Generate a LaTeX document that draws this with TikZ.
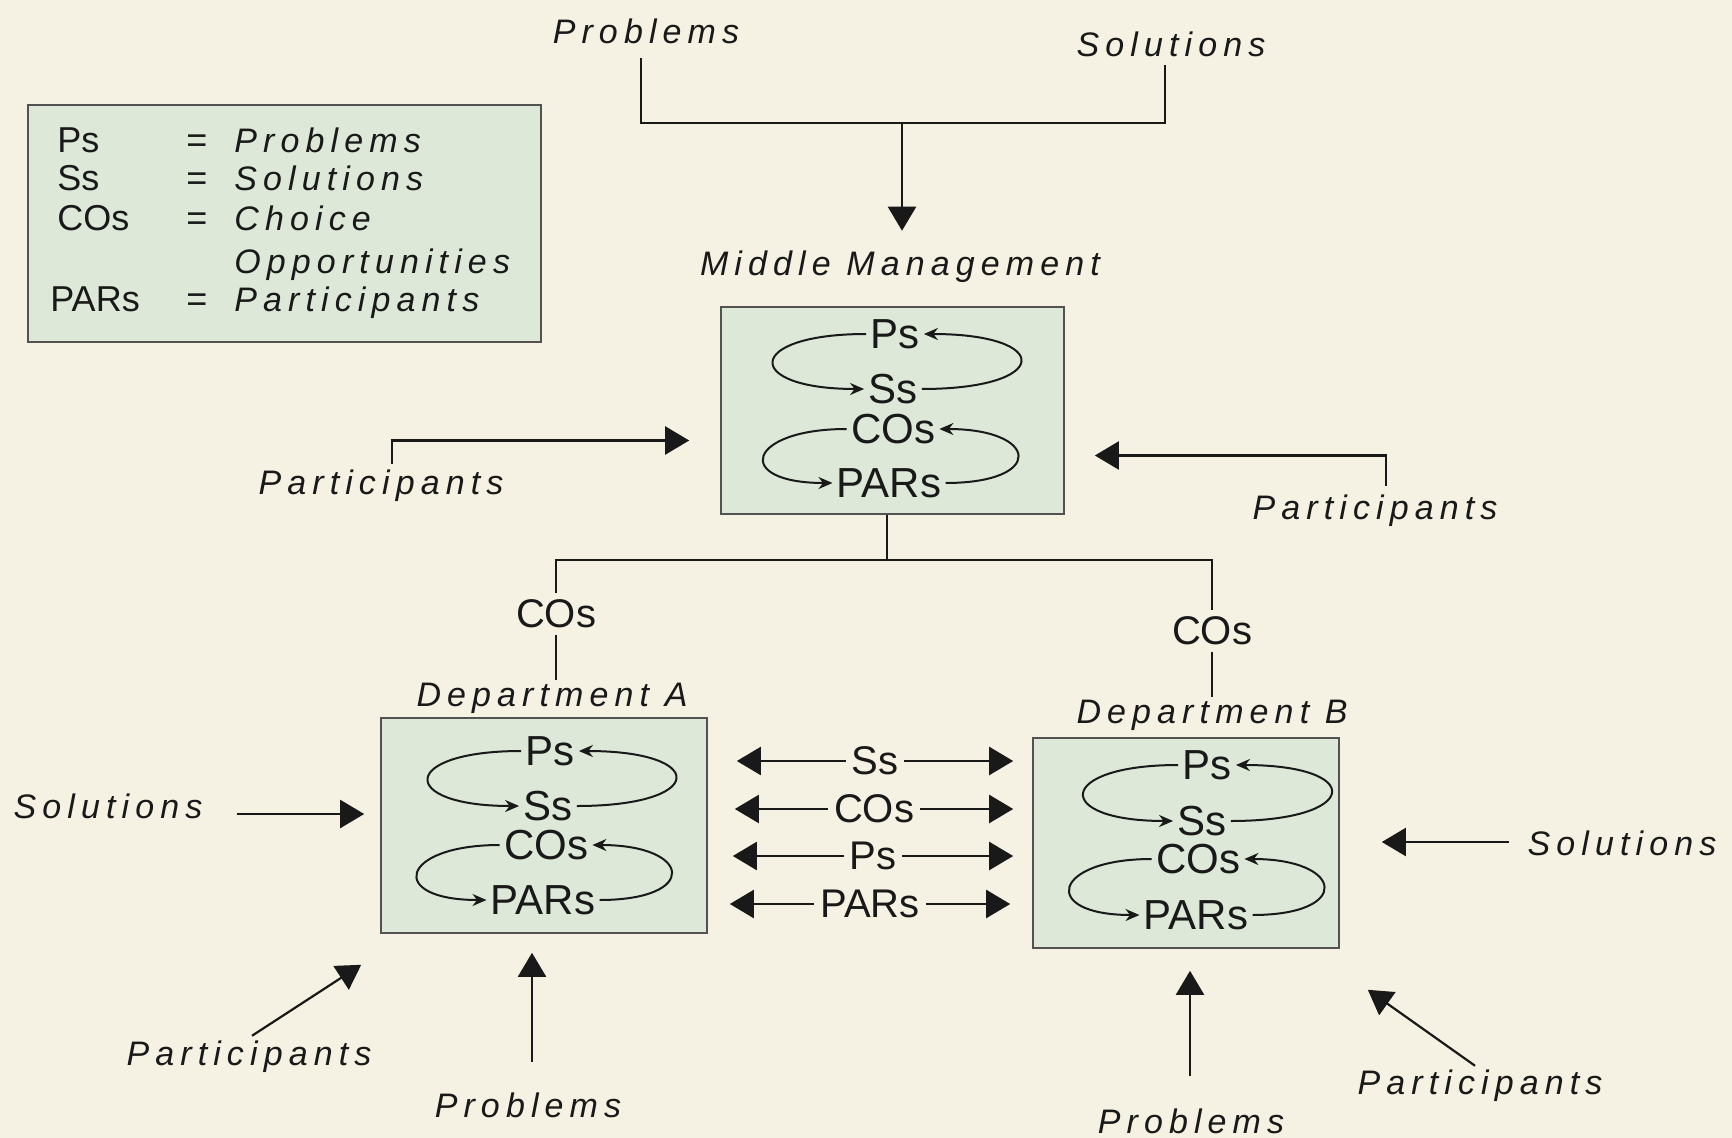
\documentclass[tikz,border=0pt]{standalone}
\usepackage{fontspec}
\setmainfont{Liberation Sans}
\newfontfamily\labfont[LetterSpace=18]{Liberation Sans}
\usetikzlibrary{arrows.meta,calc}
\definecolor{bg}{RGB}{245,242,227}
\definecolor{boxfill}{RGB}{221,232,217}
\definecolor{ink}{RGB}{25,25,25}
\newcommand\gcloops[5]{%
  \node[inlab] (#1P) at (#2) {Ps};
  \node[inlab] (#1S) at (#3) {Ss};
  \node[inlab] (#1C) at (#4) {COs};
  \node[inlab] (#1R) at (#5) {PARs};
  \draw[loopar] (#1P.west) .. controls +(-122,0) and +(-122,0) .. (#1S.west);
  \draw[loopar] (#1S.east) .. controls +(130,0) and +(130,0) .. (#1P.east);
  \draw[loopar] (#1C.west) .. controls +(-100,0) and +(-100,0) .. (#1R.west);
  \draw[loopar] (#1R.east) .. controls +(100,0) and +(100,0) .. (#1C.east);
}
\begin{document}
\begin{tikzpicture}[x=0.5pt,y=-0.5pt,
  lab/.style={font=\labfont\itshape\fontsize{17}{20}\selectfont, text=ink, inner sep=1pt},
  inlab/.style={font=\fontsize{21}{24}\selectfont, text=ink, inner sep=2pt},
  midlab/.style={font=\fontsize{20}{24}\selectfont, text=ink, inner sep=3pt, fill=bg},
  colab/.style={font=\fontsize{20}{24}\selectfont, text=ink, inner sep=3pt},
  legup/.style={font=\fontsize{18}{20}\selectfont, text=ink, anchor=base west, inner sep=0pt},
  legit/.style={font=\labfont\itshape\fontsize{17}{20}\selectfont, text=ink, anchor=base west, inner sep=0pt},
  gbox/.style={draw=ink!75, fill=boxfill, line width=0.8pt, inner sep=0pt},
  conn/.style={draw=ink, line width=1.1pt},
  big/.style={-{Triangle[length=12pt,width=14pt]}},
  dbl/.style={{Triangle[length=12pt,width=14pt]}-{Triangle[length=12pt,width=14pt]}},
  loopar/.style={draw=ink, line width=1pt, -{Stealth[length=7pt,width=6pt]}},
]
\fill[bg] (0,0) rectangle (1732,1138);
\useasboundingbox (0,0) rectangle (1732,1138);

% legend
\node[gbox, minimum width=256.5pt, minimum height=118.5pt] (leg) at (284.5,223.5) {};
\node[legup] (l1a) at (57,153) {Ps};
\node[legup] (l2a) at (57,191) {Ss};
\node[legup] (l3a) at (57,231) {COs};
\node[legup] (l5a) at (50,312) {PARs};
\node[legup,anchor=base] (l1b) at (197,153) {=};
\node[legup,anchor=base] (l2b) at (197,191) {=};
\node[legup,anchor=base] (l3b) at (197,231) {=};
\node[legup,anchor=base] (l5b) at (197,312) {=};
\node[legit] (l1c) at (234,153) {Problems};
\node[legit] (l2c) at (234,191) {Solutions};
\node[legit] (l3c) at (234,231) {Choice};
\node[legit] (l4c) at (234,274) {Opportunities};
\node[legit] (l5c) at (234,312) {Participants};

% boxes
\node[gbox, minimum width=171.5pt, minimum height=103.5pt] (mm) at (892.5,410.5) {};
\node[gbox, minimum width=163pt, minimum height=107.5pt] (dA) at (544,825.5) {};
\node[gbox, minimum width=153pt, minimum height=105pt] (dB) at (1186,843) {};

\gcloops{m}{895,334}{893,389}{893,429}{889,483}
\gcloops{a}{550,751}{548,806}{546,845}{543,900}
\gcloops{b}{1207,765}{1202,821}{1198,859}{1196,915}

% titles
\node[lab] (mml) at (900,267) {Middle Management};
\node[lab] (dAl) at (552,698) {Department A};
\node[lab] (dBl) at (1212,715) {Department B};

% top inputs
\node[lab] (tp) at (646,31) {Problems};
\node[lab] (ts) at (1171,44) {Solutions};
\coordinate (j) at (902,123);
\draw[conn] ($(tp.south)+(-5,12)$) |- (j) -| ($(ts.south)+(-6,6)$);
\draw[conn,big] (j) -- ($(mml.north)+(2,-18)$);

% participants to middle management
\node[lab] (pl) at (381,486) {Participants};
\node[lab] (pr) at (1375,511) {Participants};
\draw[conn,big] ($(pl.north)+(11,-4)$) |- ($(mm.west)+(-31,30)$);
\draw[conn,big] ($(pr.north)+(11,-7)$) |- ($(mm.east)+(30,45)$);

% tree below middle management
\coordinate (bt) at (887,560);
\node[colab] (coA) at (556,614) {COs};
\node[colab] (coB) at (1212,631) {COs};
\draw[conn] (mm.south -| bt) -- (bt);
\draw[conn] (coA.north) |- (bt) -| (coB.north);
\draw[conn] (coA.south) -- (coA.south |- dAl.north);
\draw[conn] (coB.south) -- (coB.south |- dBl.north);

% exchanges between departments
\coordinate (r1) at (873,761);
\coordinate (r2) at (873,809);
\coordinate (r3) at (873,856);
\coordinate (r4) at (873,904);
\draw[conn,dbl] ($(dA.east |- r1)+(29,0)$) -- node[midlab]{Ss} ($(dB.west |- r1)+(-19,0)$);
\draw[conn,dbl] ($(dA.east |- r2)+(27,0)$) -- node[midlab]{COs} ($(dB.west |- r2)+(-19,0)$);
\draw[conn,dbl] ($(dA.east |- r3)+(25,0)$) -- node[midlab]{Ps} ($(dB.west |- r3)+(-19,0)$);
\draw[conn,dbl] ($(dA.east |- r4)+(22,0)$) -- node[midlab]{PARs} ($(dB.west |- r4)+(-22,0)$);

% side inputs
\node[lab] (sl) at (108,806) {Solutions};
\node[lab] (sr) at (1622,843) {Solutions};
\draw[conn,big] ($(sl.east)+(32,8)$) -- ($(dA.west)+(-16,-11.5)$);
\draw[conn,big] ($(sr.west)+(-16,-1)$) -- ($(dB.east)+(42,-1)$);

% bottom inputs
\node[lab] (pbl) at (249,1057) {Participants};
\node[lab] (pbA) at (528,1105) {Problems};
\node[lab] (pbB) at (1191,1121) {Problems};
\node[lab] (pbr) at (1480,1086) {Participants};
\draw[conn,big] ($(pbl.north)+(3,-3)$) -- ($(dA.south west)+(-19,31)$);
\draw[conn,big] ($(pbA.north)+(4,-28)$) -- ($(dA.south)+(-12,19)$);
\draw[conn,big] ($(pbB.north)+(-1,-30)$) -- ($(dB.south)+(4,22)$);
\draw[conn,big] ($(pbr.north)+(-5,-2)$) -- ($(dB.south east)+(28,41)$);
\end{tikzpicture}
\end{document}
